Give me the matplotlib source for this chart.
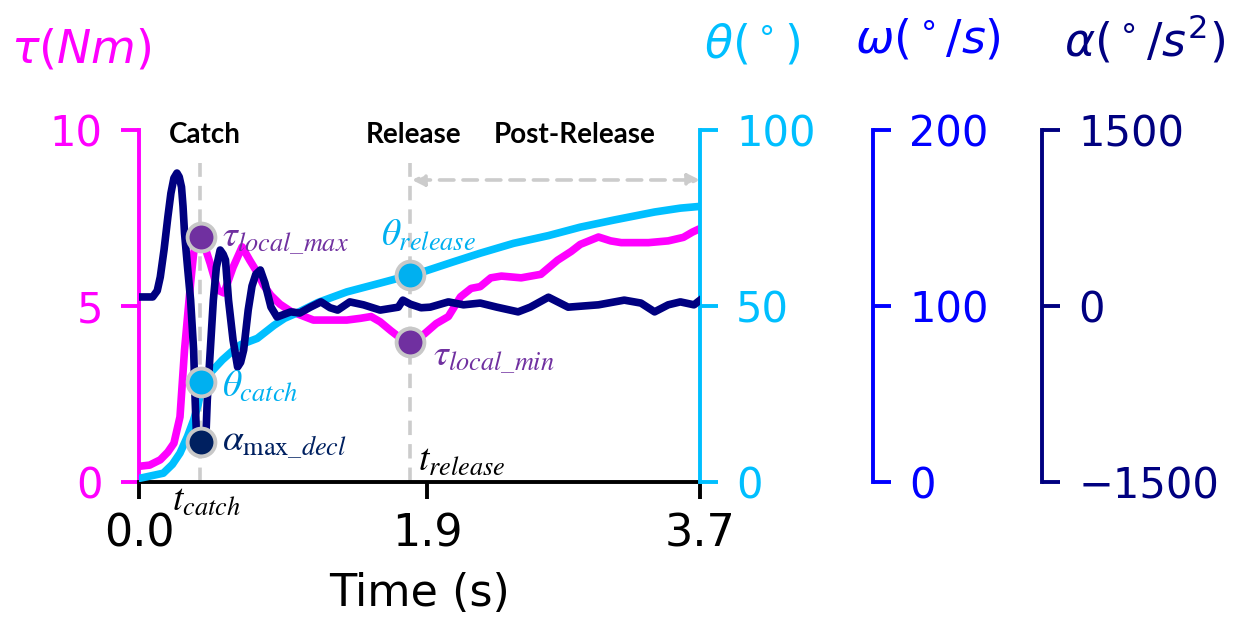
import matplotlib
matplotlib.use('Agg')
import matplotlib.pyplot as plt

plt.rcParams['mathtext.fontset'] = 'stix'

# ---- data ----
tau_t = [0.01, 0.07, 0.14, 0.19, 0.23, 0.27, 0.30, 0.34, 0.36, 0.38, 0.40,
         0.44, 0.47, 0.52, 0.56, 0.62, 0.68, 0.73, 0.78, 0.82, 0.87,
         0.93, 1.00, 1.06, 1.15, 1.26, 1.37, 1.46, 1.53, 1.59, 1.66, 1.72, 1.79,
         1.88, 1.96, 2.04, 2.12, 2.19, 2.25, 2.32, 2.39, 2.52, 2.65, 2.76, 2.85,
         2.91, 3.03, 3.11, 3.18, 3.36, 3.49, 3.59, 3.65, 3.70]
tau_v = [0.45, 0.48, 0.63, 0.85, 1.1, 1.85, 3.75, 5.65, 6.5, 6.85, 6.96,
         6.6, 6.2, 5.45, 5.37, 6.1, 6.68, 6.3, 5.95, 5.6, 5.3,
         5.05, 4.85, 4.75, 4.6, 4.6, 4.6, 4.65, 4.7, 4.55, 4.3, 4.1, 4.0,
         4.2, 4.5, 4.7, 5.26, 5.5, 5.55, 5.8, 5.85, 5.8, 5.9, 6.3, 6.55,
         6.75, 6.96, 6.85, 6.8, 6.8, 6.85, 6.95, 7.1, 7.2]

theta_t = [0.01, 0.16, 0.22, 0.27, 0.32, 0.36, 0.39, 0.42, 0.47, 0.55, 0.61,
           0.67, 0.78, 0.89, 0.96, 1.04, 1.18, 1.37, 1.59, 1.79,
           1.88, 2.07, 2.25, 2.47, 2.70, 2.91, 3.13, 3.40, 3.57, 3.70]
theta_v = [1.1, 2.5, 5.0, 8.2, 13.0, 17.6, 22.0, 28.5, 31.0, 34.7, 37.0,
           39.0, 40.8, 44.5, 46.5, 48.0, 51.0, 54.0, 56.5, 58.8,
           59.8, 62.5, 65.0, 67.8, 70.0, 72.4, 74.4, 76.7, 77.8, 78.3]

alpha_t = [0.01, 0.09, 0.12, 0.14, 0.165, 0.19, 0.21, 0.23, 0.25, 0.265,
           0.28, 0.29, 0.30, 0.32, 0.34, 0.36, 0.37, 0.38, 0.40, 0.44, 0.45,
           0.47, 0.49, 0.51, 0.535, 0.555, 0.57, 0.59, 0.62, 0.65, 0.67, 0.69,
           0.72, 0.745, 0.77, 0.80, 0.83, 0.87, 0.91, 1.00, 1.06, 1.13,
           1.20, 1.26, 1.31, 1.39, 1.48, 1.59, 1.71, 1.74, 1.79, 1.86, 1.92,
           2.04, 2.14, 2.25, 2.36, 2.50, 2.58, 2.70, 2.83, 3.03, 3.20, 3.31,
           3.40, 3.49, 3.57, 3.66, 3.70]
alpha_v = [77, 77, 130, 247, 480, 758, 960, 1090, 1133, 1100,
           1014, 850, 622, 330, 51, -375, -801, -1142, -1227, -1142, -801,
           -375, 51, 330, 477, 440, 392, 51, -290, -520, -480, -375,
           -34, 170, 270, 307, 196, -9, -94, -50, -60, -10,
           35, -15, -35, 35, 10, -35, -10, 50, 15, -15, -10,
           35, 10, 25, -10, -50, -10, 75, -10, 10, 50, 25,
           -50, 10, 35, 10, 50]

t_catch = 0.40
t_release = 1.79

MAG = '#FF00FF'
CYAN = '#00BFFF'
BLUE = '#0000FF'
NAVY = '#000080'
PURPLE = '#7030A0'
CYAN_M = '#00B0F0'
NAVY_M = '#002060'
GRAY = '#CCCCCC'

fig = plt.figure(figsize=(12.47, 6.22), dpi=100)
ax = fig.add_axes([0.1115, 0.2251, 0.4499, 0.5659])
ax_th = ax.twinx()
ax_w = ax.twinx()
ax_a = ax.twinx()

ax.set_xlim(0, 3.7)
ax.set_ylim(0, 10)
ax_th.set_ylim(0, 100)
ax_w.set_ylim(0, 200)
ax_a.set_ylim(-1500, 1500)

# guide lines
ax.axvline(t_catch, ymax=0.906, color=GRAY, lw=2.6, ls=(0, (4, 2.5)), zorder=1)
ax.axvline(t_release, ymax=0.906, color=GRAY, lw=2.6, ls=(0, (4, 2.5)), zorder=1)

ax.plot(tau_t, tau_v, color=MAG, lw=5.5, zorder=3)
ax_th.plot(theta_t, theta_v, color=CYAN, lw=5.5, zorder=3)
ax_a.plot(alpha_t, alpha_v, color=NAVY, lw=5.5, zorder=3)

# spines and ticks
for a in (ax, ax_th, ax_w, ax_a):
    a.spines['top'].set_visible(False)
    a.tick_params(axis='y', width=2.8, length=13, pad=13, labelsize=30)
ax.spines['right'].set_visible(False)
for a in (ax_th, ax_w, ax_a):
    a.spines['left'].set_visible(False)
    a.spines['bottom'].set_visible(False)
ax.spines['left'].set_color(MAG)
ax.spines['left'].set_linewidth(2.8)
ax.spines['bottom'].set_linewidth(2.8)
ax.tick_params(axis='y', colors=MAG)
ax.tick_params(axis='x', labelsize=32, width=2.8, length=12, pad=10)
ax.set_yticks([0, 5, 10])
ax.set_xticks([0, 1.9, 3.7])
ax.set_xticklabels(['0.0', '1.9', '3.7'])
ax.set_xlabel('Time (s)', fontsize=32, labelpad=12)

for a, col, pos, ticks in ((ax_th, CYAN, 1.0, [0, 50, 100]),
                           (ax_w, BLUE, 1.308, [0, 100, 200]),
                           (ax_a, NAVY, 1.61, [-1500, 0, 1500])):
    a.spines['right'].set_position(('axes', pos))
    a.spines['right'].set_color(col)
    a.spines['right'].set_linewidth(2.8)
    a.tick_params(axis='y', colors=col)
    a.set_yticks(ticks)

# arrow for post-release
ax_a.annotate('', xy=(3.7, 8.58), xytext=(1.80, 8.58),
              xycoords=ax.transData, textcoords=ax.transData,
              arrowprops=dict(arrowstyle='<|-|>', color=GRAY, lw=2.6,
                              ls=(0, (4, 2.5)), mutation_scale=18,
                              shrinkA=0, shrinkB=0))

# phase labels
for x, s in ((0.436, 'Catch'), (1.81, 'Release'), (2.87, 'Post-Release')):
    ax_a.text(x, 9.86, s, transform=ax.transData, ha='center', va='center',
              fontsize=20, fontweight='bold', family='Lato')

# key points
mk = dict(ms=20, mec='#C8C8C8', mew=2.8, zorder=6, clip_on=False)
ax_a.plot([0.41], [6.96], 'o', mfc=PURPLE, transform=ax.transData, **mk)
ax_a.plot([0.41], [28.5], 'o', mfc=CYAN_M, transform=ax_th.transData, **mk)
ax_a.plot([0.41], [-1160], 'o', mfc=NAVY_M, transform=ax_a.transData, **mk)
ax_a.plot([t_release], [58.8], 'o', mfc=CYAN_M, transform=ax_th.transData, **mk)
ax_a.plot([t_release], [3.98], 'o', mfc=PURPLE, transform=ax.transData, **mk)

fs = 27
ax_a.text(0.548, 6.93, r'$\tau_{local\_max}$', color=PURPLE, fontsize=fs,
          transform=ax.transData, ha='left', va='center')
ax_a.text(0.548, 2.7, r'$\theta_{catch}$', color=CYAN_M, fontsize=fs,
          transform=ax.transData, ha='left', va='center')
ax_a.text(0.548, 1.14, r'$\alpha_{\max\_decl}$', color=NAVY_M, fontsize=fs,
          transform=ax.transData, ha='left', va='center')
ax_a.text(1.91, 7.0, r'$\theta_{release}$', color=CYAN_M, fontsize=fs,
          transform=ax.transData, ha='center', va='center')
ax_a.text(1.936, 3.55, r'$\tau_{local\_min}$', color=PURPLE, fontsize=fs,
          transform=ax.transData, ha='left', va='center')
ax_a.text(0.218, -0.55, r'$t_{catch}$', color='black', fontsize=fs,
          transform=ax.transData, ha='left', va='center')
ax_a.text(1.843, 0.6, r'$t_{release}$', color='black', fontsize=fs,
          transform=ax.transData, ha='left', va='center')

# axis titles
for x, y, s, col in ((0.065, 0.92, r'$\tau (Nm)$', MAG),
                     (0.603, 0.928, r'$\theta (^\circ)$', CYAN),
                     (0.744, 0.936, r'$\omega (^\circ/s)$', BLUE),
                     (0.918, 0.936, r'$\alpha (^\circ/s^2)$', NAVY)):
    fig.text(x, y, s, color=col, fontsize=33, ha='center', va='center',
             math_fontfamily='dejavusans')

fig.savefig('out.png', dpi=100)
